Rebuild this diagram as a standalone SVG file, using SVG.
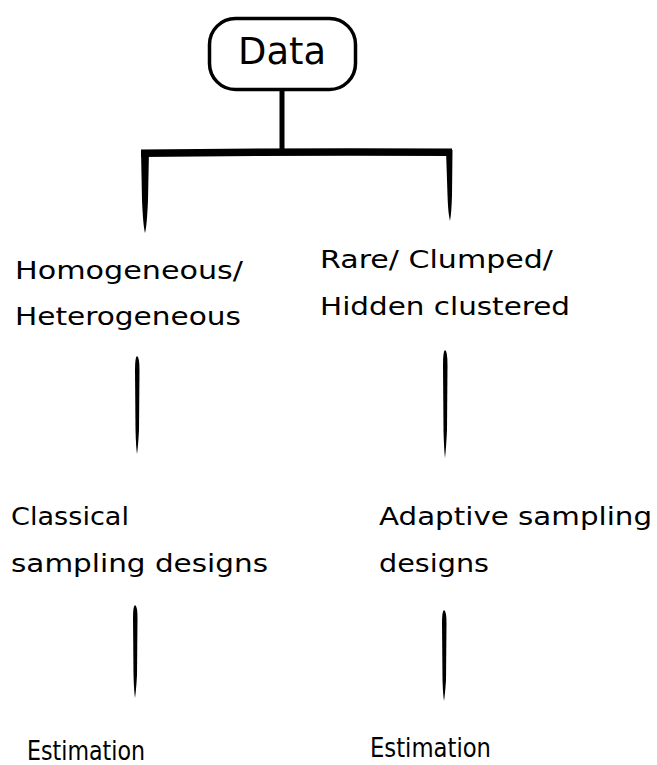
<svg xmlns="http://www.w3.org/2000/svg" width="657" height="765" viewBox="0 0 657 765">
<style>
text{font-family:"DejaVu Sans","Liberation Sans",sans-serif;fill:#000;font-size:25px}
.ink{fill:#000;stroke:none}
.est{font-size:27px}
</style>
<rect width="657" height="765" fill="#fff"/>
<g id="connectors">
<path class="ink" d="M279.5 90 L284.5 90 L284.5 150 L279.5 150 Z"/>
<path class="ink" d="M141 149.5 Q300 147.5 452 148.5 L452 156 Q300 155 141 157 Z"/>
<path class="ink" d="M141 150 L149 150 L148 200 Q147 225 145 233 Q143 225 142 200 Z"/>
<path class="ink" d="M446 150 L452.5 150 L452 195 Q451.5 213 450 221 Q448 213 447.5 195 Z"/>
<path class="ink" d="M137 356 Q139.5 357 139.5 370 L139 430 Q138 448 137 454 Q136 448 135.5 430 L135 370 Q135 357 137 356 Z"/>
<path class="ink" d="M445 350 Q447.5 351 447.5 365 L447 430 Q446 450 445 458 Q444 450 443.5 430 L443 365 Q443 351 445 350 Z"/>
<path class="ink" d="M135 605 Q137.5 606 137.5 618 L137 675 Q136 692 135 698 Q134 692 133.5 675 L133 618 Q133 606 135 605 Z"/>
<path class="ink" d="M444 610 Q446.5 611 446.5 623 L446 680 Q445 695 444 701 Q443 695 442.5 680 L442 623 Q442 611 444 610 Z"/>
</g>
<g id="data">
<rect x="209.5" y="18.5" width="146" height="71" rx="26" ry="26" fill="#fff" stroke="#000" stroke-width="3.5"/>
<text x="282" y="64" text-anchor="middle" style="font-size:38px" textLength="88" lengthAdjust="spacingAndGlyphs">Data</text>
</g>
<g id="homogeneous">
<text x="15" y="279" textLength="228" lengthAdjust="spacingAndGlyphs">Homogeneous/</text>
<text x="15" y="325" textLength="226" lengthAdjust="spacingAndGlyphs">Heterogeneous</text>
</g>
<g id="rare">
<text x="320" y="268" textLength="233" lengthAdjust="spacingAndGlyphs">Rare/ Clumped/</text>
<text x="320" y="315" textLength="250" lengthAdjust="spacingAndGlyphs">Hidden clustered</text>
</g>
<g id="classical">
<text x="11" y="525" textLength="118" lengthAdjust="spacingAndGlyphs">Classical</text>
<text x="11" y="572" textLength="257" lengthAdjust="spacingAndGlyphs">sampling designs</text>
</g>
<g id="adaptive">
<text x="379" y="525" textLength="273" lengthAdjust="spacingAndGlyphs">Adaptive sampling</text>
<text x="379" y="572" textLength="110" lengthAdjust="spacingAndGlyphs">designs</text>
</g>
<g id="estimation-left">
<text class="est" x="27" y="760" textLength="118" lengthAdjust="spacingAndGlyphs">Estimation</text>
</g>
<g id="estimation-right">
<text class="est" x="370" y="757" textLength="121" lengthAdjust="spacingAndGlyphs">Estimation</text>
</g>
</svg>
